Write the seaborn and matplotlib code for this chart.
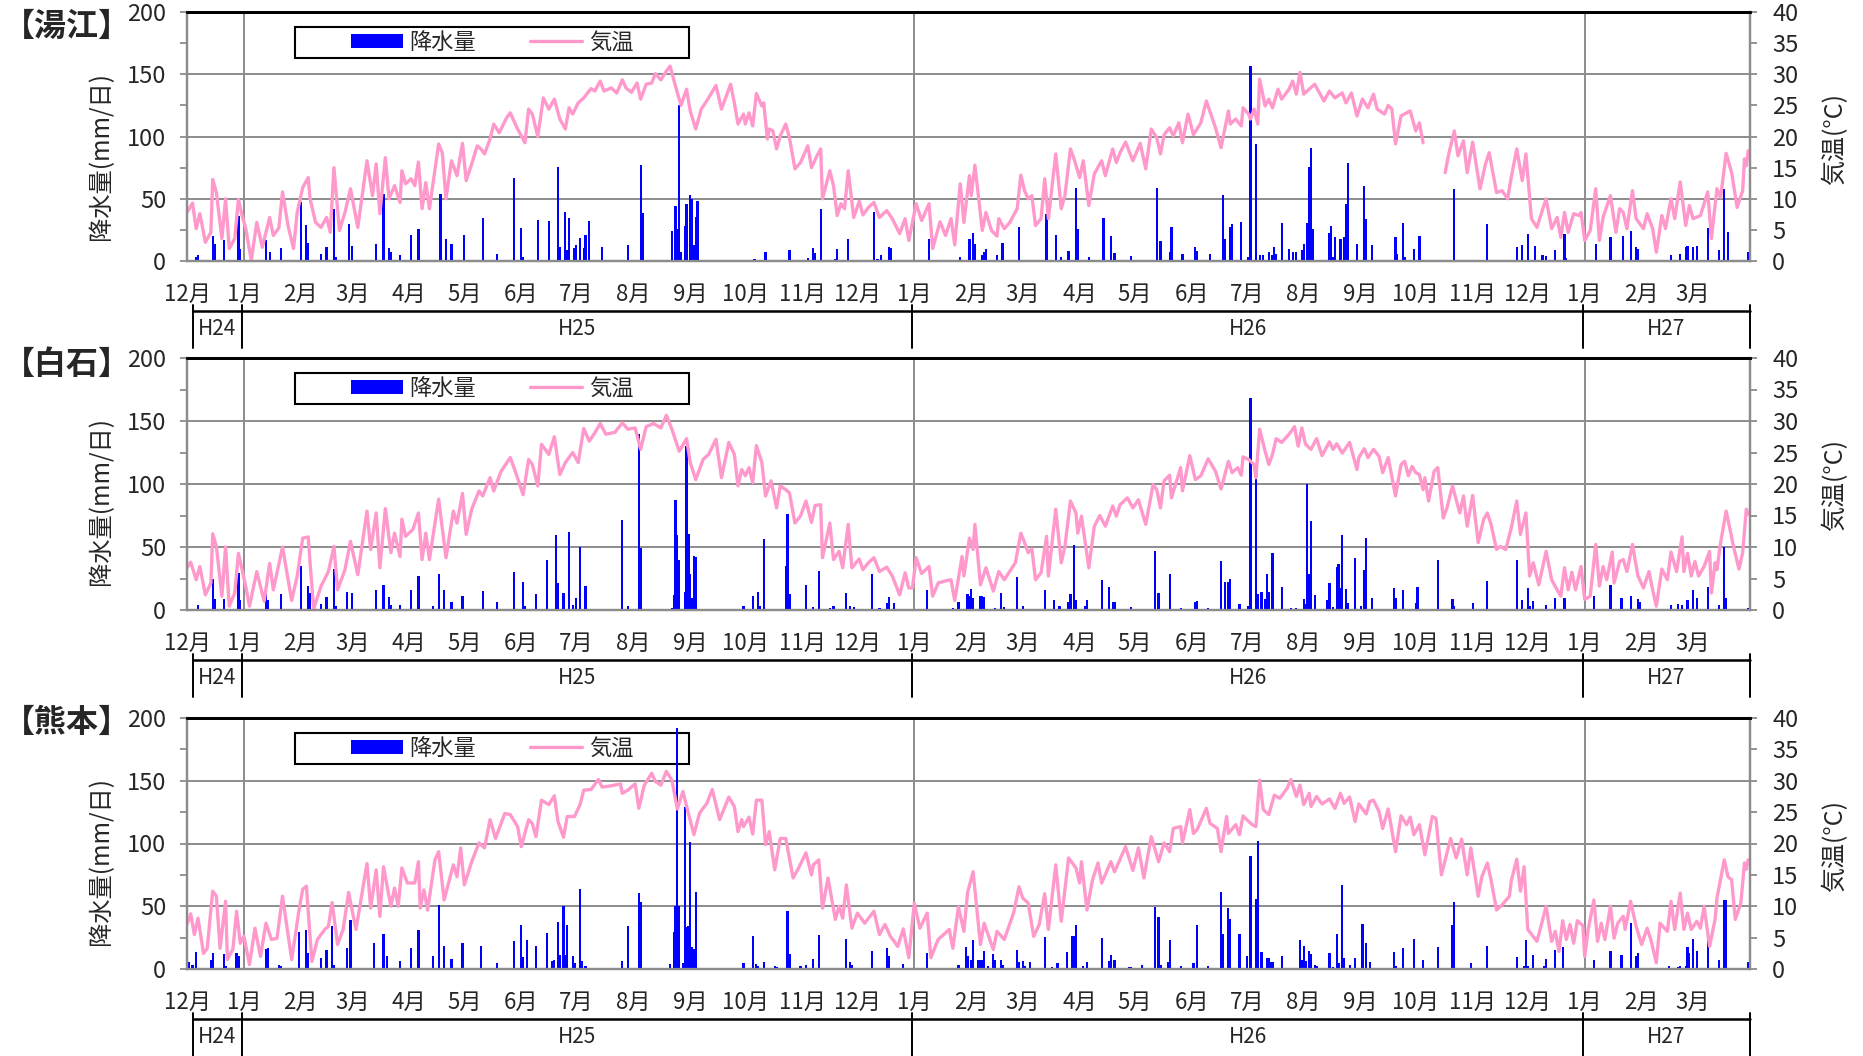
import numpy as np
import pandas as pd
import seaborn as sns
import matplotlib.pyplot as plt
import matplotlib.dates as mdates
import matplotlib.transforms as mtransforms
from matplotlib.patches import Patch, Rectangle
from matplotlib.lines import Line2D

sns.set_theme(style='white')
plt.rcParams['font.family'] = ['Noto Sans CJK JP', 'DejaVu Sans']

START = pd.Timestamp('2012-12-01')
END = pd.Timestamp('2015-04-01')
nan = float('nan')

# --- 湯江 -------------------------------------------------------------
yue_temp_day = [0, 3, 5, 7, 10, 13, 14, 16, 19, 21, 23, 26, 28, 30, 32, 35, 38, 41, 45, 47, 50, 52, 55, 58, 60,
                63, 66, 67, 70, 73, 76, 78, 80, 83, 86, 89, 93, 98, 101, 103, 105, 108, 110, 113, 116, 117, 119,
                122, 124, 126, 128, 130, 132, 137, 139, 141, 144, 147, 150, 152, 155, 158, 160, 162, 165, 167, 170,
                174, 176, 180, 184, 186, 188, 191, 194, 197, 200, 203, 206, 208, 210, 213, 216, 220, 222, 225, 227,
                231, 234, 237, 239, 242, 245, 247, 250, 253, 255, 258, 261, 263, 266, 267, 269, 272, 274, 277, 280,
                284, 288, 291, 293, 296, 298, 300, 303, 304, 306, 308, 310, 313, 314, 316, 317, 319, 321, 323, 326,
                328, 331, 334, 338, 340, 343, 345, 346, 350, 352, 354, 356, 358, 360, 363, 366, 368, 371, 374, 377,
                381, 384, 388, 391, 393, 397, 400, 404, 406, 410, 413, 416, 418, 421, 423, 426, 427, 429, 431, 433,
                435, 438, 441, 442, 445, 448, 452, 454, 456, 458, 460, 462, 465, 467, 469, 473, 476, 478, 481, 483,
                486, 488, 491, 494, 498, 500, 504, 506, 508, 511, 515, 519, 522, 525, 528, 530, 532, 535, 537, 540,
                542, 545, 548, 552, 555, 560, 563, 567, 568, 571, 574, 575, 578, 579, 581, 583, 584, 587, 589, 591,
                594, 596, 600, 602, 604, 606, 608, 611, 614, 619, 622, 625, 629, 631, 634, 637, 640, 643, 646, 648,
                652, 654, 656, 658, 661, 664, 666, 669, 671, 673, 679, 685, 687, 690, 692, 695, 697, 700, 704, 707,
                709, 713, 716, 719, 721, 724, 727, 729, 732, 735, 737, 740, 743, 746, 748, 750, 752, 755, 758, 759,
                761, 764, 767, 769, 771, 775, 778, 780, 782, 784, 787, 789, 793, 795, 798, 800, 803, 805, 808, 810,
                813, 816, 818, 820, 824, 828, 830, 833, 835, 838, 841, 844, 847, 848, 849, 850]
yue_temp_val = [7.8, 9.3, 5.2, 7.6, 3.0, 4.6, 13.1, 11.0, 3.6, 10.0, 2.0, 3.6, 9.9, 7.3, 5.2, 0.1, 6.2, 2.2, 7.0,
                4.1, 5.3, 11.1, 5.7, 2.0, 7.8, 11.8, 13.4, 10.0, 6.2, 5.4, 7.0, 4.6, 15.0, 4.9, 7.8, 11.6, 5.4,
                16.1, 10.5, 15.6, 7.6, 16.6, 10.0, 12.1, 9.4, 14.5, 12.4, 13.2, 12.1, 15.9, 8.4, 12.6, 8.4, 18.8,
                17.4, 10.0, 16.1, 13.7, 18.9, 12.9, 15.6, 18.5, 18.0, 17.2, 19.6, 22.0, 20.6, 23.0, 23.8, 21.2,
                19.0, 24.4, 23.6, 20.0, 26.2, 24.4, 26.0, 22.8, 21.2, 24.6, 23.6, 25.4, 26.2, 27.7, 27.3, 28.9,
                27.3, 27.8, 27.0, 29.1, 27.8, 27.1, 28.6, 26.0, 28.4, 28.6, 30.1, 29.1, 30.5, 31.3, 28.1, 27.0,
                25.0, 27.6, 24.1, 21.2, 24.4, 26.2, 28.2, 24.4, 26.0, 28.4, 25.4, 22.0, 23.6, 22.0, 23.8, 21.7,
                26.9, 24.9, 25.4, 19.6, 21.2, 20.9, 18.0, 20.1, 22.0, 19.8, 14.8, 15.8, 18.5, 15.0, 16.9, 18.0,
                10.0, 14.5, 12.1, 7.3, 9.2, 8.4, 14.5, 7.0, 9.6, 7.4, 8.6, 9.4, 7.0, 8.1, 6.8, 4.4, 6.8, 3.3, 9.2,
                6.5, 9.2, 2.0, 6.3, 4.1, 6.8, 2.6, 12.4, 6.2, 13.7, 10.5, 15.4, 10.2, 4.9, 7.8, 4.9, 4.0, 6.8, 5.2,
                6.2, 8.4, 13.8, 11.3, 10.0, 10.5, 5.7, 6.8, 13.2, 6.8, 17.2, 8.4, 10.5, 18.0, 16.4, 13.4, 16.1, 8.9,
                14.0, 16.1, 13.7, 18.0, 15.8, 17.4, 19.1, 16.1, 18.9, 14.8, 21.2, 19.8, 17.2, 20.3, 21.4, 20.1,
                22.2, 19.0, 23.6, 20.3, 22.2, 25.7, 21.4, 18.2, 24.1, 22.0, 22.8, 21.7, 24.6, 23.6, 22.8, 24.4,
                22.0, 29.2, 24.9, 26.0, 24.6, 27.6, 26.0, 27.6, 28.9, 26.8, 30.3, 26.8, 27.6, 28.4, 25.7, 27.3,
                26.2, 27.0, 25.4, 27.0, 23.3, 26.0, 24.6, 26.8, 24.4, 23.6, 25.0, 24.4, 18.8, 23.3, 23.8, 24.1,
                20.9, 22.2, 19.0, nan, 14.2, 17.2, 20.9, 16.9, 19.3, 14.2, 19.1, 11.6, 15.6, 17.4, 11.0, 11.3, 10.0,
                13.4, 18.0, 12.9, 17.2, 6.8, 5.4, 7.3, 10.0, 5.2, 7.0, 3.8, 7.8, 4.6, 7.6, 7.3, 7.8, 3.3, 4.9,
                11.6, 3.3, 7.0, 10.5, 4.6, 8.4, 7.8, 5.2, 11.3, 6.8, 5.2, 7.6, 5.2, 1.4, 7.3, 5.2, 10.0, 6.8, 12.7,
                5.7, 8.9, 6.8, 7.3, 11.1, 3.6, 11.6, 10.2, 17.3, 14.2, 8.6, 11.3, 16.4, 15.3, 17.7]
yue_rain_day = [5, 6, 14, 15, 20, 28, 29, 43, 45, 51, 62, 65, 66, 73, 76, 80, 81, 88, 90, 103, 107, 110, 111, 116,
                122, 126, 138, 141, 144, 151, 161, 169, 178, 182, 183, 191, 197, 202, 203, 206, 207, 208, 211, 212,
                214, 216, 217, 219, 226, 240, 247, 248, 264, 266, 267, 268, 269, 271, 272, 274, 275, 276, 277, 278,
                309, 315, 328, 338, 341, 342, 345, 353, 354, 360, 374, 376, 378, 382, 383, 404, 421, 426, 428, 429,
                433, 434, 435, 441, 444, 453, 468, 473, 476, 480, 484, 485, 491, 499, 503, 505, 514, 528, 530, 535,
                536, 542, 549, 550, 557, 564, 565, 568, 569, 574, 578, 579, 582, 584, 586, 589, 591, 592, 593, 596,
                600, 602, 604, 607, 608, 610, 611, 612, 613, 622, 623, 624, 625, 628, 630, 631, 632, 637, 641, 642,
                645, 658, 659, 662, 663, 668, 671, 690, 708, 724, 727, 730, 734, 738, 740, 745, 750, 751, 767, 775,
                782, 786, 789, 790, 808, 813, 816, 817, 820, 822, 828, 834, 837, 839, 850]
yue_rain_val = [3, 4.5, 20, 14, 16.5, 36.5, 10, 16.5, 7, 10.4, 47.7, 29, 14.7, 6, 11, 42, 3, 30, 12, 14, 54, 10.4, 7,
                4.5, 21, 26, 54, 18, 14, 21, 34.4, 5.3, 66.4, 26.4, 3, 33, 32.5, 75.2, 11, 39.2, 8.5, 34.4, 10.4,
                13, 18.4, 10.4, 21, 32.5, 11, 13, 77.3, 38.4, 23.7, 44.5, 26, 125, 7, 28.5, 46, 53, 50, 13, 35,
                48.5, 2, 7, 8.5, 2.4, 10.4, 6.7, 41.9, 2, 10, 17.9, 39.2, 2, 5, 11.2, 10.4, 17.9, 3, 17.9, 22.7,
                13.9, 5, 7, 9.3, 5, 14.4, 27, 37.9, 21, 3, 7.7, 58.7, 25.9, 3, 34.4, 19.7, 6.7, 4, 58.4, 16, 7,
                27.2, 5.6, 11.2, 7.7, 5.9, 53, 17.9, 27.2, 29.9, 31.2, 3, 157, 93.9, 4.5, 5, 7, 5, 11.2, 5.9, 30.4,
                9.3, 7, 7, 8.5, 13.9, 30.7, 75.2, 90.4, 25.9, 22.7, 28.5, 3, 19.2, 17.9, 19, 45.9, 78.4, 13.3, 60,
                33.9, 12.5, 19.2, 5.9, 30.7, 3, 9.9, 20, 57.9, 29.9, 11.2, 12.5, 21.9, 12, 4.5, 4, 8.5, 21.9, 2.4,
                13.9, 19, 19.7, 24, 11.2, 9.3, 5, 5.9, 11.2, 12, 11.2, 12, 26.4, 8.5, 57.9, 23.2, 7]

# --- 白石 -------------------------------------------------------------
shi_temp_day = [0, 2, 5, 7, 10, 13, 14, 16, 19, 21, 23, 26, 28, 30, 32, 34, 38, 42, 45, 47, 52, 57, 60, 63, 66, 67,
                69, 73, 77, 80, 82, 86, 89, 93, 98, 100, 103, 105, 108, 111, 113, 116, 117, 119, 123, 126, 128, 130,
                132, 137, 141, 145, 147, 150, 152, 155, 159, 161, 165, 167, 171, 176, 179, 183, 186, 188, 191, 193,
                197, 200, 203, 206, 210, 213, 216, 219, 222, 225, 228, 233, 237, 240, 244, 247, 250, 254, 258, 261,
                264, 268, 272, 274, 277, 281, 284, 288, 291, 295, 298, 300, 302, 304, 306, 308, 310, 313, 315, 318,
                321, 323, 326, 328, 331, 334, 337, 340, 342, 345, 346, 350, 352, 355, 357, 360, 362, 366, 368, 371,
                374, 377, 381, 384, 388, 391, 393, 395, 397, 400, 404, 406, 409, 414, 416, 418, 422, 423, 426, 428,
                429, 432, 435, 439, 442, 445, 451, 454, 456, 458, 460, 462, 465, 468, 469, 473, 476, 478, 481, 484,
                485, 487, 491, 494, 497, 500, 504, 506, 508, 512, 515, 518, 522, 526, 528, 530, 532, 535, 536, 541,
                542, 546, 549, 552, 556, 560, 563, 567, 569, 572, 574, 575, 578, 581, 582, 584, 587, 589, 591, 593,
                596, 600, 603, 605, 607, 609, 612, 615, 618, 622, 624, 626, 629, 633, 637, 638, 641, 643, 646, 649,
                651, 654, 658, 661, 663, 665, 667, 669, 671, 673, 674, 676, 679, 681, 684, 686, 689, 693, 695, 697,
                700, 703, 706, 708, 710, 713, 715, 718, 721, 724, 726, 729, 731, 733, 736, 740, 743, 746, 748, 750,
                752, 754, 756, 759, 761, 764, 767, 769, 771, 773, 776, 777, 780, 782, 784, 787, 790, 793, 796, 798,
                800, 803, 806, 808, 811, 814, 815, 817, 819, 821, 823, 826, 829, 830, 832, 833, 835, 838, 840, 842,
                845, 847, 849, 850]
shi_temp_val = [6.7, 7.6, 4.8, 6.9, 2.4, 4.3, 12.1, 10.1, 2.2, 10.0, 0.6, 2.7, 9.0, 6.4, 3.7, 0.6, 6.1, 1.4, 7.4,
                3.2, 10.0, 1.5, 5.4, 11.4, 11.6, 7.5, 0.2, 3.8, 6.1, 10.1, 3.2, 6.4, 10.9, 5.6, 15.7, 9.6, 15.4,
                6.7, 16.1, 9.1, 12.2, 8.5, 14.4, 11.7, 12.8, 15.4, 8.0, 12.2, 8.0, 17.6, 8.3, 15.7, 13.8, 18.5,
                12.0, 16.0, 18.9, 18.1, 21.0, 18.9, 22.0, 24.2, 21.8, 18.3, 23.9, 23.1, 19.7, 26.3, 24.7, 27.5,
                21.5, 23.4, 25.0, 23.4, 28.8, 26.8, 28.1, 29.6, 27.9, 28.2, 29.7, 28.7, 28.9, 25.5, 29.1, 29.6,
                28.9, 30.9, 28.7, 25.2, 27.2, 23.4, 20.7, 23.9, 24.7, 27.1, 21.0, 26.6, 24.7, 19.7, 22.3, 21.3,
                22.6, 20.2, 26.1, 23.4, 18.1, 20.5, 16.2, 19.7, 19.1, 18.6, 13.8, 14.9, 17.3, 13.9, 16.6, 16.7,
                8.3, 13.8, 8.0, 9.3, 6.7, 13.6, 6.7, 8.1, 6.4, 7.5, 8.3, 6.1, 6.8, 5.4, 2.4, 5.9, 3.5, 3.5, 8.3,
                5.8, 6.9, 2.2, 4.3, 4.7, 4.8, 1.5, 8.5, 5.4, 11.4, 9.6, 13.6, 4.0, 6.7, 3.0, 6.1, 4.8, 7.5, 12.2,
                10.7, 9.1, 9.7, 4.8, 5.9, 11.7, 5.4, 16.0, 7.5, 10.1, 17.3, 15.4, 12.2, 14.9, 6.7, 13.3, 15.0,
                13.3, 16.5, 14.9, 16.7, 17.8, 16.2, 17.5, 13.6, 19.9, 19.1, 16.2, 20.5, 21.4, 17.8, 22.6, 18.9,
                24.5, 20.7, 21.3, 24.0, 22.0, 19.2, 23.6, 21.8, 22.6, 21.4, 24.3, 23.9, 23.1, 21.0, 28.7, 25.2,
                23.1, 24.7, 27.2, 26.6, 27.9, 29.1, 26.0, 28.9, 26.3, 25.5, 27.2, 24.5, 26.7, 25.5, 26.4, 24.9,
                26.6, 22.3, 24.2, 25.6, 24.2, 25.5, 24.4, 21.8, 24.2, 18.1, 23.1, 23.6, 21.3, 22.8, 21.8, 21.5,
                19.1, 21.0, 17.3, 22.0, 22.6, 14.6, 16.2, 19.7, 15.4, 18.1, 13.3, 18.2, 10.7, 14.4, 15.4, 13.6,
                9.6, 10.1, 9.6, 13.0, 17.3, 12.0, 15.4, 5.4, 7.5, 4.0, 9.3, 4.8, 3.2, 2.2, 6.7, 3.2, 6.0, 3.2, 6.9,
                1.7, 2.2, 10.4, 3.8, 6.9, 4.8, 9.2, 4.3, 7.7, 8.0, 6.1, 10.4, 5.4, 3.5, 6.1, 3.2, 0.6, 6.5, 4.8,
                9.2, 6.1, 11.6, 6.1, 9.0, 5.4, 7.7, 5.4, 6.9, 9.3, 2.7, 7.5, 6.4, 10.7, 15.7, 13.0, 10.1, 6.5, 9.1,
                16.0, 15.2]
shi_rain_day = [1, 6, 14, 15, 20, 28, 29, 43, 44, 49, 51, 62, 66, 67, 73, 76, 80, 81, 87, 90, 103, 107, 110, 111,
                116, 122, 126, 134, 137, 140, 144, 150, 161, 169, 178, 183, 184, 190, 196, 201, 202, 205, 208, 210,
                212, 214, 217, 237, 240, 246, 247, 264, 265, 266, 267, 268, 271, 272, 273, 274, 275, 276, 277, 303,
                308, 311, 312, 314, 323, 326, 327, 328, 337, 341, 344, 350, 352, 359, 361, 363, 373, 377, 381, 382,
                385, 403, 417, 420, 425, 426, 427, 428, 432, 433, 434, 440, 443, 445, 452, 455, 460, 467, 472, 475,
                480, 481, 483, 484, 489, 490, 498, 502, 504, 505, 514, 527, 529, 535, 541, 549, 550, 556, 563, 565,
                567, 568, 573, 578, 579, 582, 583, 585, 587, 588, 589, 591, 596, 601, 604, 608, 609, 610, 611, 612,
                614, 619, 621, 622, 624, 626, 627, 628, 629, 631, 632, 636, 639, 641, 642, 645, 657, 658, 662, 669,
                670, 681, 689, 690, 700, 708, 724, 727, 730, 731, 733, 740, 745, 750, 766, 775, 781, 786, 790, 791,
                808, 812, 814, 817, 820, 822, 828, 834, 837, 838, 850]
shi_rain_val = [1, 4.2, 25, 8.8, 8.8, 29.4, 8.2, 14, 8.2, 1, 12.7, 34.7, 18.8, 13.5, 5, 10, 32.6, 3, 14.6, 13.5,
                16.2, 19.6, 10.3, 4.2, 4, 16.2, 26.8, 3.4, 28.9, 16.2, 6.1, 11.4, 15.4, 6.1, 30.5, 22.3, 3.4, 13,
                39.5, 59.2, 21.5, 13.5, 61.8, 4.2, 9.5, 50.1, 19.4, 71.4, 3.4, 139.5, 49.3, 1.6, 12.2, 87, 59.2,
                40, 14, 130.2, 60, 28.9, 9.5, 43.2, 42.2, 3.4, 10.9, 14, 3.4, 56.5, 1, 34.7, 75.9, 12.7, 19.9, 2,
                31.3, 1.6, 3, 13.5, 3, 2, 28.9, 1.6, 5.6, 10, 5.6, 16.2, 1.6, 6.4, 12.7, 10.9, 16.7, 9.5, 10.9,
                10.9, 10.3, 1.6, 13.5, 2, 26.3, 3, 1, 15.6, 7.7, 3, 6.1, 13, 51.2, 7.7, 3, 7.7, 24.1, 18.3, 6.1,
                6.1, 2.4, 47.2, 13.5, 28.9, 1.6, 6.4, 7.4, 1.3, 38.5, 22, 22.3, 24.7, 5, 3, 167.9, 105, 13, 14, 8.8,
                28.9, 14, 45.4, 18.3, 1.6, 1.6, 8.8, 5, 99.7, 28.9, 70.6, 12.2, 1, 7.7, 21.5, 2.4, 34.2, 36.9,
                17.5, 59.2, 16.7, 5.6, 41.4, 3, 32.1, 56.8, 9.5, 17.5, 9.5, 15.6, 5.6, 18.6, 39.5, 9, 3, 5.6, 23.3,
                40, 8.2, 17.2, 3, 7.2, 4.2, 9.5, 9.5, 11.4, 19.6, 9.5, 11.4, 8.8, 6.1, 4.2, 5, 4.2, 7.7, 16.2, 9.5,
                18, 4.2, 50.1, 9.5, 1.6]

# --- 熊本 -------------------------------------------------------------
kum_temp_day = [0, 2, 4, 6, 9, 11, 14, 16, 18, 21, 22, 25, 27, 29, 31, 34, 37, 40, 43, 46, 49, 52, 57, 61, 63, 65,
                68, 71, 75, 77, 79, 82, 85, 88, 92, 98, 100, 103, 105, 107, 111, 113, 115, 117, 120, 124, 126, 127,
                129, 131, 135, 137, 140, 145, 147, 149, 151, 155, 159, 162, 165, 168, 173, 176, 180, 182, 186, 188,
                190, 193, 197, 200, 202, 205, 207, 211, 214, 216, 220, 224, 226, 231, 236, 237, 240, 244, 246, 249,
                253, 255, 258, 261, 264, 267, 270, 273, 276, 279, 283, 286, 290, 295, 298, 300, 302, 303, 306, 308,
                310, 313, 315, 317, 320, 323, 326, 330, 333, 337, 340, 341, 344, 346, 349, 353, 355, 357, 359, 362,
                365, 369, 374, 377, 380, 383, 387, 390, 393, 396, 399, 403, 405, 409, 415, 417, 420, 423, 425, 428,
                432, 434, 439, 441, 445, 450, 453, 455, 458, 461, 464, 467, 469, 473, 476, 480, 484, 486, 487, 490,
                493, 496, 498, 503, 505, 507, 511, 515, 518, 521, 525, 529, 532, 535, 537, 541, 542, 546, 548, 550,
                555, 557, 561, 563, 566, 567, 571, 573, 575, 577, 580, 582, 584, 586, 589, 592, 595, 599, 601, 604,
                606, 608, 611, 612, 615, 618, 622, 625, 628, 630, 633, 636, 638, 642, 644, 646, 649, 651, 654, 658,
                661, 664, 666, 668, 671, 674, 678, 680, 683, 688, 691, 694, 697, 699, 703, 705, 708, 710, 713, 716,
                720, 721, 724, 726, 728, 730, 735, 740, 743, 745, 747, 749, 751, 753, 755, 757, 760, 761, 763, 766,
                768, 770, 772, 775, 777, 779, 782, 783, 786, 789, 792, 795, 797, 800, 802, 806, 808, 810, 813, 815,
                817, 819, 822, 824, 826, 829, 832, 833, 837, 839, 841, 843, 846, 848, 849, 850]
kum_temp_val = [7.1, 8.8, 5.5, 8.1, 2.5, 3.3, 12.4, 11.6, 3.3, 10.8, 1.5, 3.2, 9.2, 4.1, 5.2, 0.7, 6.5, 2.0, 7.3,
                4.7, 4.9, 11.6, 1.5, 9.4, 12.7, 13.2, 1.2, 4.7, 6.3, 6.8, 10.6, 3.9, 6.3, 12.2, 6.3, 16.8, 9.7,
                15.8, 8.4, 16.3, 10.0, 12.9, 10.0, 16.1, 13.7, 13.7, 17.1, 9.7, 12.6, 9.4, 17.4, 18.7, 11.0, 16.6,
                14.7, 19.3, 13.4, 17.1, 20.1, 19.3, 23.8, 20.8, 24.8, 24.6, 22.7, 19.5, 23.8, 23.2, 21.1, 26.9,
                26.2, 27.6, 23.5, 21.0, 24.3, 24.3, 26.2, 28.5, 28.6, 30.2, 29.0, 29.2, 29.5, 28.0, 28.5, 29.5,
                25.6, 29.3, 31.2, 29.9, 29.3, 31.5, 30.1, 25.5, 28.3, 24.8, 21.4, 24.8, 26.4, 28.6, 23.8, 27.4,
                25.9, 21.9, 23.8, 22.7, 24.2, 21.5, 26.9, 26.9, 19.8, 21.9, 15.8, 20.8, 20.8, 14.5, 16.1, 18.5,
                15.0, 16.6, 17.4, 9.7, 14.5, 7.9, 10.0, 8.1, 13.4, 6.5, 8.9, 7.3, 9.2, 5.5, 7.1, 5.2, 3.6, 6.4,
                1.8, 10.5, 6.5, 8.9, 1.8, 4.7, 6.3, 3.3, 9.9, 6.0, 12.2, 15.5, 3.9, 7.3, 3.1, 6.0, 4.7, 8.9, 13.1,
                11.3, 10.5, 5.2, 7.1, 12.0, 6.3, 16.6, 7.6, 17.7, 16.1, 13.7, 17.1, 9.4, 14.2, 16.9, 13.7, 17.1,
                15.5, 16.8, 19.5, 15.7, 19.3, 14.5, 21.1, 17.1, 20.1, 18.7, 22.4, 22.7, 20.1, 25.4, 21.6, 22.2,
                25.6, 23.2, 22.4, 18.7, 24.3, 21.6, 23.0, 21.4, 24.4, 23.8, 23.0, 22.7, 30.1, 25.4, 24.6, 27.7,
                27.2, 28.8, 30.2, 27.5, 29.3, 26.2, 28.0, 25.9, 27.5, 26.3, 27.1, 25.6, 28.0, 26.4, 27.4, 23.5,
                26.3, 24.7, 26.7, 26.9, 25.1, 22.4, 25.5, 18.7, 24.4, 23.0, 24.2, 21.4, 23.0, 18.2, 24.3, 24.0,
                15.0, 20.8, 17.7, 20.7, 15.0, 19.3, 11.6, 14.7, 16.9, 14.2, 9.4, 10.2, 11.6, 14.0, 17.5, 12.4,
                16.3, 6.3, 4.4, 10.0, 4.4, 6.0, 2.8, 7.7, 4.7, 7.1, 4.1, 7.7, 6.9, 2.0, 6.5, 11.0, 4.4, 7.3, 4.7,
                10.0, 4.9, 7.3, 8.4, 6.3, 10.8, 6.8, 3.9, 6.5, 4.7, 1.0, 7.3, 6.0, 10.8, 6.3, 12.1, 6.3, 8.9, 6.3,
                7.6, 6.5, 10.0, 3.6, 7.9, 11.3, 17.4, 14.7, 14.2, 7.9, 10.5, 16.9, 15.9, 17.4]
kum_rain_day = [1, 3, 5, 13, 14, 20, 21, 27, 28, 43, 44, 50, 51, 61, 65, 66, 73, 76, 79, 80, 87, 89, 102, 107, 109,
                111, 116, 122, 126, 134, 137, 140, 144, 150, 160, 169, 178, 182, 183, 185, 190, 196, 199, 200, 202,
                203, 205, 206, 207, 210, 211, 214, 215, 217, 237, 240, 246, 247, 263, 265, 266, 267, 268, 270, 271,
                272, 273, 274, 275, 276, 277, 303, 308, 310, 311, 314, 320, 321, 327, 328, 334, 337, 341, 344, 351,
                353, 359, 361, 362, 373, 377, 381, 382, 390, 403, 420, 424, 425, 427, 428, 431, 432, 433, 434, 436,
                439, 440, 443, 444, 452, 453, 455, 456, 459, 467, 471, 474, 479, 482, 483, 484, 488, 490, 498, 502,
                503, 505, 513, 514, 520, 527, 529, 530, 534, 535, 541, 548, 550, 556, 563, 564, 567, 568, 573, 577,
                579, 580, 582, 583, 585, 588, 589, 590, 591, 596, 606, 607, 608, 609, 611, 612, 614, 615, 618, 622,
                624, 626, 627, 629, 630, 633, 636, 640, 642, 644, 657, 658, 662, 668, 673, 681, 689, 690, 699, 708,
                724, 728, 729, 730, 733, 739, 740, 745, 749, 766, 775, 781, 786, 789, 790, 807, 812, 813, 816, 817,
                818, 820, 822, 828, 834, 837, 838, 850]
kum_rain_val = [5.3, 3.4, 13.3, 7.4, 12.7, 11.9, 2.7, 12.7, 10, 15.9, 16.7, 3.4, 2.7, 29.2, 30.8, 12.7, 8.8, 15.4,
                34.5, 3.4, 16.4, 38.7, 20.7, 28.1, 10.6, 1, 6.6, 16.7, 30.8, 10.6, 50.9, 18, 8, 20.7, 18, 4.8, 22,
                35.3, 9.5, 22.8, 18, 28.6, 6.1, 7.4, 37.7, 11.4, 49.9, 11.4, 35.3, 10, 4.8, 63.7, 6.1, 2.7, 6.1,
                34.5, 60.5, 53, 4.2, 29.2, 49.9, 191.8, 49.9, 4.8, 129.4, 33.4, 34, 100.8, 17.5, 15.9, 61, 4.8, 26,
                4.2, 2.7, 5.3, 2.7, 1.6, 45.9, 12.2, 2.1, 3.4, 8, 27.3, 1, 1, 23.9, 5.3, 3.4, 14.3, 1, 16.7, 10, 4,
                12.7, 3.4, 17.2, 10, 6.9, 23.3, 6.9, 6.9, 7.4, 14, 2.7, 11.9, 6.9, 6.9, 3.4, 15.4, 5.8, 6.1, 2.1,
                5.3, 25.2, 1.3, 4.8, 13.8, 26.5, 26.5, 35.3, 2.1, 5.3, 24.7, 6.1, 11.4, 6.9, 1.3, 1.6, 3.4, 49.1,
                41.4, 3.4, 5.3, 23.3, 2.1, 4.8, 34.7, 2.7, 61, 28.1, 48.3, 39.8, 28.1, 10, 89.7, 1, 55.7, 101.6,
                13.5, 8.8, 8.8, 5.3, 5.6, 10.6, 22.8, 6.9, 18, 6.1, 14.6, 12.2, 3.4, 2.7, 1, 12.7, 1.3, 28.1, 4.8,
                67.1, 8.8, 3.4, 8.5, 36.1, 20.7, 5.6, 13.3, 2.1, 16.7, 23.9, 7.4, 17.2, 35.3, 53.3, 4.8, 18, 9.5,
                2.1, 23.3, 2.1, 10.9, 2.1, 8, 15.4, 17.2, 6.9, 14.6, 11.4, 36.6, 10.6, 12.7, 2.7, 1.3, 2.1, 2.7,
                17.5, 12.7, 23.9, 14, 26.5, 7.4, 55.2, 54.6, 5.6]

# axis labels and scales
stations = ['【湯江】', '【白石】', '【熊本】']
rain_label = '降水量(mm/日)'
temp_label = '気温(°C)'
rain_ticks = [0, 50, 100, 150, 200]
temp_ticks = [0, 5, 10, 15, 20, 25, 30, 35, 40]
month_starts = pd.date_range('2012-12-01', '2015-03-01', freq='MS')
month_labels = [f'{d.month}月' for d in month_starts]
year_lines = pd.to_datetime(['2013-01-01', '2014-01-01', '2015-01-01'])
era_labels = ['H24', 'H25', 'H26', 'H27']
era_bounds = [3, 30, 395, 760, 851]

BLUE = '#0000FF'
PINK = '#FF99CC'
GRAY = '#8C8C8C'
W, H = 1863, 1056


def draw_panel(fig, top, bottom, name, t_day, t_val, r_day, r_val, title_y, ylab_y, y2lab_y):
    hpx = bottom - top
    ax = fig.add_axes([187 / W, (H - bottom) / H, 1563 / W, hpx / H])
    ax2 = ax.twinx()

    rain = pd.DataFrame({'date': START + pd.to_timedelta(r_day, unit='D'), 'mm': r_val})
    ax.bar(rain['date'], rain['mm'], width=1.2, color=BLUE, linewidth=0, zorder=3)

    temp = pd.DataFrame({'date': START + pd.to_timedelta(t_day, unit='D'), 'deg': t_val})
    temp['seg'] = temp['deg'].isna().cumsum()
    temp = temp.dropna()
    sns.lineplot(data=temp, x='date', y='deg', units='seg', estimator=None, color=PINK,
                 linewidth=2.4, ax=ax2, legend=False)

    ax.set_xlim(START, END)
    ax.set_ylim(0, 200)
    ax2.set_ylim(0, 40)
    ax.set_xlabel('')
    ax.set_ylabel('')
    ax2.set_xlabel('')
    ax2.set_ylabel('')

    ax.set_yticks(rain_ticks)
    ax.set_yticks([25, 75, 125, 175], minor=True)
    ax2.set_yticks(temp_ticks)
    ax.set_xticks(month_starts)
    ax.set_xticklabels(month_labels)
    ax.tick_params(axis='x', length=0, pad=16, labelsize=16)
    ax.tick_params(axis='y', which='both', left=True, length=5, width=1.3, color=GRAY, pad=10, labelsize=17)
    ax2.tick_params(axis='y', right=True, length=5, width=1.3, color=GRAY, pad=11, labelsize=17)

    ax.yaxis.grid(True, color=GRAY, linewidth=1.4)
    ax.set_axisbelow(True)
    for d in year_lines:
        ax.axvline(d, color=GRAY, linewidth=1.4, zorder=1)

    for a in (ax, ax2):
        for s in ('left', 'right', 'bottom'):
            a.spines[s].set_color(GRAY)
            a.spines[s].set_linewidth(1.6)
        a.spines['top'].set_color('black')
        a.spines['top'].set_linewidth(2)

    # legend, drawn under the bars like the original
    lx = ((295 + 689) / 2 - 187) / 1563
    ly = 1 - 30 / hpx
    box = Rectangle((lx - 0.126, ly - 15.5 / hpx), 0.252, 31 / hpx, transform=ax.transAxes,
                    facecolor='white', edgecolor='black', linewidth=1.5, zorder=2.5)
    ax.add_patch(box)
    handles = [Patch(facecolor=BLUE, edgecolor='none', label='降水量'),
               Line2D([], [], color=PINK, linewidth=2.4, label='気温')]
    leg = ax.legend(handles=handles, ncol=2, loc='center', bbox_to_anchor=(lx, ly), frameon=False,
                    fontsize=16, handlelength=2.35, handletextpad=0.3, columnspacing=2.4,
                    handleheight=0.6, borderpad=0, borderaxespad=0)
    leg.set_zorder(2.6)

    # era brackets under the month labels
    tr = mtransforms.blended_transform_factory(ax.transData, ax.transAxes)
    xs = [mdates.date2num(START + pd.Timedelta(days=d)) for d in era_bounds]
    ax.plot([xs[0], xs[-1]], [-50 / hpx, -50 / hpx], transform=tr, color='black', linewidth=1.8, clip_on=False)
    for x in xs:
        ax.plot([x, x], [-44 / hpx, -87 / hpx], transform=tr, color='black', linewidth=1.4, clip_on=False)
    for lab, x0, x1 in zip(era_labels, xs[:-1], xs[1:]):
        ax.text((x0 + x1) / 2, -68 / hpx, lab, transform=tr, ha='center', va='center', fontsize=15)

    fig.text(0.0015, 1 - title_y / H, name, fontsize=23, ha='left', va='center', fontweight='bold')
    fig.text(101 / W, 1 - ylab_y / H, rain_label, rotation=90, fontsize=17.5, ha='center', va='center')
    fig.text(1835 / W, 1 - y2lab_y / H, temp_label, rotation=90, fontsize=18, ha='center', va='center')


fig = plt.figure(figsize=(W / 100, H / 100), dpi=100)
draw_panel(fig, 12, 261, stations[0], yue_temp_day, yue_temp_val, yue_rain_day, yue_rain_val, 27, 156, 139)
draw_panel(fig, 358, 610, stations[1], shi_temp_day, shi_temp_val, shi_rain_day, shi_rain_val, 365, 501, 485)
draw_panel(fig, 718, 969, stations[2], kum_temp_day, kum_temp_val, kum_rain_day, kum_rain_val, 723, 861, 846)

fig.savefig('out.png', dpi=100)
